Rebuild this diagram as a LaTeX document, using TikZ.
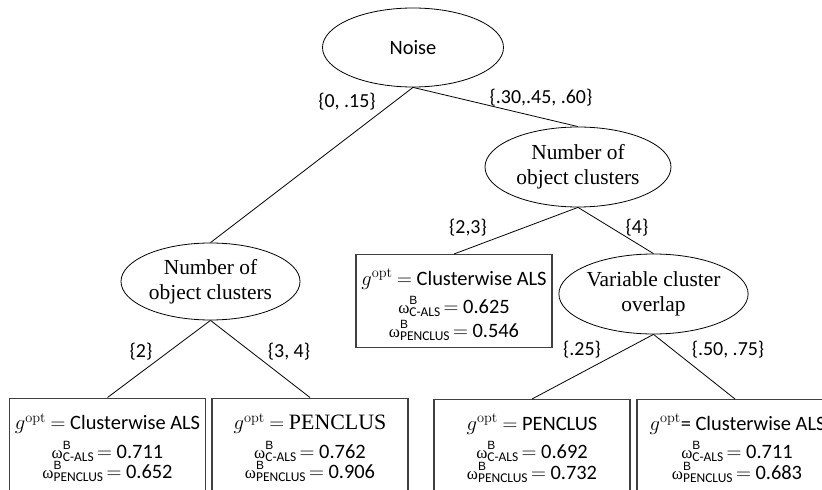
\documentclass[tikz,border=0pt]{standalone}
\usepackage[no-math]{fontspec}
\setmainfont{Carlito}
\newfontfamily\serifLM{Liberation Serif}
\newfontfamily\lsans{Liberation Sans}
\usetikzlibrary{shapes.geometric}
\newcommand\gopt{{\fontsize{22}{24}\selectfont$g^{\mathrm{opt}}$}}
\newcommand\wsub[1]{{\serifLM\fontsize{17}{15}\selectfont ω}\rlap{\raisebox{9bp}{\lsans\fontsize{12}{11}\selectfont B}}\raisebox{-3bp}{\fontsize{13.5}{13.5}\selectfont #1}}
\newcommand\wline[2]{\wsub{#1}\,$=$ #2}
\begin{document}
\begin{tikzpicture}[x=1bp,y=-1bp,
  ell/.style={draw, ellipse, inner sep=0pt, line width=0.8bp, align=center,
    font=\serifLM\fontsize{21.5}{25}\selectfont},
  sansell/.style={ell, font=\fontsize{20.5}{24}\selectfont},
  box/.style={draw=black!75, line width=1.2bp, rectangle, inner sep=0pt, minimum width=196bp, anchor=north},
  lab/.style={inner sep=0pt, font=\fontsize{20}{22}\selectfont},
  txt/.style={anchor=base, inner sep=0pt, font=\fontsize{20.5}{22}\selectfont},
  edge/.style={line width=0.8bp}]
\fill[white] (0,0) rectangle (822,490);
\clip (0,0) rectangle (822,490);
% ellipses
\node[sansell, minimum width=181bp, minimum height=79bp] (noise) at (413,47.5) {Noise};
\node[ell, minimum width=186bp, minimum height=80bp] (rnoc) at (578,167) {Number of\\object clusters};
\node[ell, minimum width=179bp, minimum height=77bp] (lnoc) at (210.5,281.5) {Number of\\object clusters};
\node[ell, minimum width=181bp, minimum height=80bp] (var) at (653.5,294) {Variable cluster\\overlap};
% boxes
\node[box, minimum height=93bp] (mb) at (454,254) {};
\node[box, minimum height=120bp] (b1) at (107.5,397.5) {};
\node[box, minimum height=120bp] (b2) at (310,397.5) {};
\node[box, minimum height=120bp] (b3) at (532,399) {};
\node[box, minimum height=120bp] (b4) at (735,399) {};
% box texts
\node[txt] (mb1) at ([yshift=-31bp]mb.north) {\gopt\ $=$ Clusterwise ALS};
\node[txt] (mb2) at ([yshift=-59bp]mb.north) {\wline{C-ALS}{0.625}};
\node[txt] (mb3) at ([yshift=-83bp]mb.north) {\wline{PENCLUS}{0.546}};
\node[txt] (b1a) at ([yshift=-32bp]b1.north) {\gopt\ $=$ Clusterwise ALS};
\node[txt] (b1b) at ([yshift=-60.5bp]b1.north) {\wline{C-ALS}{0.711}};
\node[txt] (b1c) at ([yshift=-81bp]b1.north) {\wline{PENCLUS}{0.652}};
\node[txt] (b2a) at ([yshift=-32bp]b2.north) {\gopt\ $=$ {\serifLM\fontsize{22}{24}\selectfont PENCLUS}};
\node[txt] (b2b) at ([yshift=-60.5bp]b2.north) {\wline{C-ALS}{0.762}};
\node[txt] (b2c) at ([yshift=-81bp]b2.north) {\wline{PENCLUS}{0.906}};
\node[txt] (b3a) at ([yshift=-31bp]b3.north) {\gopt\ $=$ PENCLUS};
\node[txt] (b3b) at ([yshift=-59.5bp]b3.north) {\wline{C-ALS}{0.692}};
\node[txt] (b3c) at ([yshift=-80bp]b3.north) {\wline{PENCLUS}{0.732}};
\node[txt, anchor=base west] (b4a) at ([xshift=13bp,yshift=-31bp]b4.north west) {\gopt= Clusterwise ALS};
\node[txt] (b4b) at ([xshift=2bp,yshift=-59.5bp]b4.north) {\wline{C-ALS}{0.711}};
\node[txt] (b4c) at ([xshift=2bp,yshift=-80bp]b4.north) {\wline{PENCLUS}{0.683}};
% connectors
\draw[edge] (noise.south) -- (lnoc.north);
\draw[edge] (noise.south) -- (rnoc.north);
\draw[edge] (rnoc.south) -- (mb.north);
\draw[edge] (rnoc.south) -- (var.north);
\draw[edge] (lnoc.south) -- (b1.north);
\draw[edge] (lnoc.south) -- (b2.north);
\draw[edge] (var.south) -- (b3.north);
\draw[edge] (var.south) -- (b4.north);
% labels
\node[lab] (l1) at (347,101.5) {\{0, .15\}};
\node[lab] (l2) at (541,97.5) {\{.30,.45, .60\}};
\node[lab] (l3) at (468,228) {\{2,3\}};
\node[lab] (l4) at (637,228) {\{4\}};
\node[lab] (l5) at (141,352) {\{2\}};
\node[lab] (l6) at (289,352) {\{3, 4\}};
\node[lab] (l7) at (582,350) {\{.25\}};
\node[lab] (l8) at (728,350) {\{.50, .75\}};
\end{tikzpicture}
\end{document}
